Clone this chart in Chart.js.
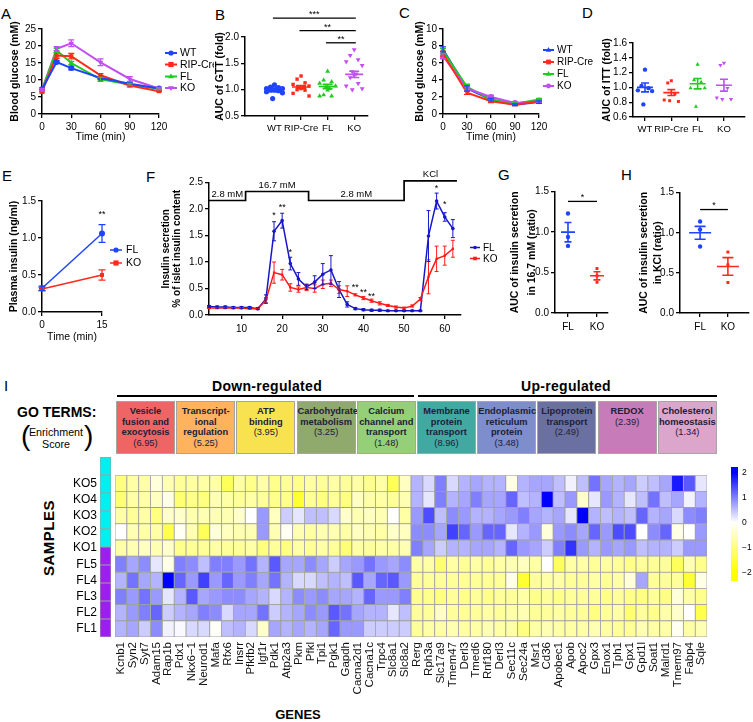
<!DOCTYPE html>
<html><head><meta charset="utf-8"><title>Figure</title>
<script src="https://cdn.jsdelivr.net/npm/chart.js@4/dist/chart.umd.min.js"></script>
<style>
html,body{margin:0;padding:0;background:#fff;}
body{width:753px;height:722px;position:relative;overflow:hidden;font-family:"Liberation Sans",Arial,Helvetica,sans-serif;color:#000;}
canvas{position:absolute;}
.t{position:absolute;white-space:nowrap;}
.pl{font-size:15px;line-height:15px;}
.go{position:absolute;top:401px;height:53px;box-sizing:border-box;border:1px solid #a5a5a5;text-align:center;font-weight:bold;font-size:9.3px;line-height:10.5px;padding-top:4px;color:#202036;}
.go .sc{font-weight:normal;}
</style></head>
<body>
<div class="t pl" style="left:1px;top:6px">A</div>
<div class="t pl" style="left:215px;top:7px">B</div>
<div class="t pl" style="left:399px;top:5px">C</div>
<div class="t pl" style="left:582px;top:5px">D</div>
<div class="t pl" style="left:2px;top:168px">E</div>
<div class="t pl" style="left:146px;top:169px">F</div>
<div class="t pl" style="left:498px;top:167px">G</div>
<div class="t pl" style="left:621px;top:167px">H</div>
<div class="t pl" style="left:4px;top:378px">I</div>

<div class="t" style="left:167px;width:200px;top:379px;text-align:center;font-weight:bold;font-size:14px;line-height:14px;letter-spacing:0.3px">Down-regulated</div>
<div class="t" style="left:466px;width:200px;top:379px;text-align:center;font-weight:bold;font-size:14px;line-height:14px;letter-spacing:0.3px">Up-regulated</div>
<div class="t" style="left:117px;width:297px;top:395px;height:2px;background:#000"></div>
<div class="t" style="left:418px;width:299px;top:395px;height:2px;background:#000"></div>

<div class="t" style="left:17px;top:405px;font-weight:bold;font-size:14px;line-height:14px">GO TERMS:</div>
<div class="t" style="left:21px;top:422px;font-size:28px;line-height:28px">(</div>
<div class="t" style="left:84px;top:422px;font-size:28px;line-height:28px">)</div>
<div class="t" style="left:16px;width:80px;top:427px;text-align:center;font-size:10.7px;line-height:11.5px">Enrichment<br>Score</div>

<div class="t" style="left:-11px;width:120px;top:529px;text-align:center;font-weight:bold;font-size:15px;line-height:18px;letter-spacing:0.5px;transform:rotate(-90deg)">SAMPLES</div>
<div class="t" style="left:248px;width:100px;top:707px;text-align:center;font-weight:bold;font-size:13px;line-height:15px">GENES</div>

<script>
const FONT = '"Liberation Sans", Arial, Helvetica, sans-serif';
Chart.defaults.font.family = FONT;
Chart.defaults.color = '#000';

// ================= DATA =================
const groups4 = ['WT', 'RIP-Cre', 'FL', 'KO'];
const groups2 = ['FL', 'KO'];

// A: IPGTT blood glucose
const gttTime = [0, 15, 30, 60, 90, 120];
const gttWT  = [7.3, 15.3, 13.5, 10.6, 8.9, 7.5];
const gttRIP = [6.5, 17.2, 17.0, 11.4, 8.4, 6.7];
const gttFL  = [7.0, 18.7, 15.0, 10.2, 8.7, 7.4];
const gttKO  = [7.2, 19.2, 20.8, 15.2, 10.3, 7.5];
const gttWTerr  = [0.3, 0.4, 0.5, 0.4, 0.3, 0.2];
const gttRIPerr = [0.3, 0.8, 0.8, 0.5, 0.4, 0.2];
const gttFLerr  = [0.3, 0.6, 0.5, 0.6, 0.3, 0.2];
const gttKOerr  = [0.3, 0.6, 1.0, 1.0, 0.7, 0.3];

// B: AUC of GTT
const aucGttWT  = [1.09, 1.05, 1.04, 1.02, 1.02, 1.0, 1.0, 0.99, 0.99, 0.98, 0.96, 0.94, 0.83];
const aucGttRIP = [1.26, 1.2, 1.13, 1.1, 1.07, 1.05, 1.04, 1.02, 1.0, 0.99, 0.93, 0.88];
const aucGttFL  = [1.35, 1.18, 1.15, 1.12, 1.07, 1.04, 1.02, 0.99, 0.9, 0.88, 0.88];
const aucGttKO  = [1.76, 1.65, 1.57, 1.53, 1.46, 1.34, 1.3, 1.27, 1.23, 1.12, 1.07, 1.02, 1.0];
const aucGttMean = [1.0, 1.05, 1.06, 1.29];
const aucGttSem  = [0.02, 0.03, 0.04, 0.06];
const gttSigFrom = [0, 1, 2];
const gttSigTo   = [3, 3, 3];
const gttSigY    = [2.36, 2.12, 1.89];
const gttSigText = ['***', '**', '**'];

// C: ITT blood glucose
const ittTime = [0, 30, 60, 90, 120];
const ittWT  = [7.6, 3.0, 1.7, 1.1, 1.4];
const ittRIP = [7.1, 2.5, 1.5, 1.1, 1.5];
const ittFL  = [7.4, 3.2, 1.7, 1.2, 1.7];
const ittKO  = [6.8, 3.0, 2.0, 1.3, 1.5];
const ittWTerr  = [0.3, 0.3, 0.15, 0.1, 0.15];
const ittRIPerr = [0.3, 0.2, 0.15, 0.1, 0.15];
const ittFLerr  = [0.3, 0.3, 0.15, 0.1, 0.15];
const ittKOerr  = [0.3, 0.3, 0.2, 0.1, 0.15];

// D: AUC of ITT
const aucIttWT  = [1.24, 1.02, 0.99, 0.96, 0.95, 0.77];
const aucIttRIP = [1.09, 1.06, 0.91, 0.83, 0.81, 0.82];
const aucIttFL  = [1.31, 1.1, 1.07, 0.99, 0.99, 0.74];
const aucIttKO  = [1.33, 1.3, 0.99, 0.86, 0.84, 0.84];
const aucIttMean = [1.0, 0.93, 1.05, 1.03];
const aucIttSem  = [0.06, 0.04, 0.07, 0.08];

// E: plasma insulin
const insTime = [0, 15];
const insFL = [0.32, 1.06];
const insKO = [0.31, 0.50];
const insFLerr = [0.03, 0.12];
const insKOerr = [0.02, 0.07];
const insStarT = [15];
const insStarY = [1.35];
const insStarText = ['**'];

// F: islet perifusion
const periTime = [2,4,6,8,10,12,14,16,18,20,22,24,26,28,30,32,34,36,38,40,42,44,46,48,50,52,54,56,58,60,62];
const periFL = [0.16,0.15,0.15,0.14,0.14,0.14,0.12,0.30,1.58,1.78,0.97,0.68,0.53,0.62,0.77,0.85,0.48,0.20,0.12,0.10,0.09,0.09,0.08,0.08,0.08,0.08,0.08,1.49,2.15,1.85,1.63];
const periKO = [0.13,0.13,0.13,0.13,0.13,0.12,0.12,0.28,0.80,0.76,0.52,0.48,0.52,0.50,0.58,0.60,0.48,0.45,0.38,0.32,0.27,0.22,0.18,0.15,0.13,0.17,0.30,0.72,1.06,1.12,1.25];
const periFLerr = [0.02,0.02,0.02,0.02,0.02,0.02,0.02,0.08,0.18,0.14,0.12,0.12,0.05,0.12,0.20,0.27,0.15,0.05,0.02,0.02,0.02,0.02,0.01,0.01,0.01,0.01,0.01,0.48,0.15,0.08,0.17];
const periKOerr = [0.01,0.01,0.01,0.01,0.01,0.01,0.01,0.05,0.20,0.10,0.07,0.05,0.06,0.07,0.08,0.06,0.07,0.10,0.02,0.03,0.03,0.03,0.02,0.02,0.02,0.02,0.03,0.32,0.24,0.18,0.16];
const stimStart = [2, 11, 26.5, 50];
const stimEnd   = [11, 26.5, 50, 63];
const stimLevel = [2.16, 2.33, 2.16, 2.53];
const stimText  = ['2.8 mM', '16.7 mM', '2.8 mM', 'KCl'];
const periStarT = [18, 20, 22, 38, 40, 42, 58, 60];
const periStarY = [1.91, 2.06, 1.21, 0.55, 0.46, 0.38, 2.42, 2.12];
const periStarText = ['*', '**', '*', '**', '**', '**', '*', '*'];

// G: AUC insulin secretion 16.7 mM
const gsisFL = [1.23, 0.94, 0.83];
const gsisKO = [0.55, 0.46, 0.38];
const gsisMean = [1.0, 0.46];
const gsisSem = [0.12, 0.05];

// H: AUC insulin secretion KCl
const kclFL = [1.14, 1.04, 0.83];
const kclKO = [0.76, 0.60, 0.38];
const kclMean = [1.0, 0.58];
const kclSem = [0.08, 0.11];

// I: heatmap
const genes = ['Kcnb1','Syn2','Syt7','Adam15','Rap1b','Pdx1','Nkx6\u22121','Neurod1','Mafa','Rfx6','Insrr','Pfkfb2','Igf1r','Pdk1','Atp2a3','Pkm','Pfkl','Tpi1','Pgk1','Gapdh','Cacna2d1','Cacna1c','Trpc4','Slc8a1','Slc8a2',
  'Rerg','Rph3a','Slc17a9','Tmem47','Derl3','Tmed6','Rnf180','Derl3','Sec11c','Sec24a','Msr1','Cd36','Apobec1','Apob','Apoc2','Gpx3','Enox1','Tph1','Gpx1','Gpd1l','Soat1','Malrd1','Tmem97','Fabp4','Sqle'];
const sampleNames = ['KO5','KO4','KO3','KO2','KO1','FL5','FL4','FL3','FL2','FL1'];
const KO5 = [-1.0,-0.7,-0.7,-0.3,-0.6,-0.8,-0.7,-0.7,-0.7,-1.3,-0.7,-0.9,-0.7,-0.9,-0.8,-0.9,-0.7,-0.8,-0.7,-0.8,-0.7,-0.9,-0.7,-1.3,-0.5,
  0.6,0.3,1.0,0.3,0.6,0.7,0.6,0.6,-0.2,0.6,0.7,0.7,0.5,0.1,0.5,1.1,0.7,0.6,0.7,0.4,0.5,0.7,1.8,1.3,0.2];
const KO4 = [-1.1,-0.7,-0.7,-0.5,-0.2,-1.1,-0.9,-1.0,-0.6,-0.7,-0.8,-0.7,-0.8,-0.9,-0.9,-1.6,-0.8,-1.0,-0.8,-1.0,-0.5,-0.7,-0.7,-0.8,-0.6,
  0.6,0.2,1.0,0.6,0.7,1.0,0.7,0.7,1.2,0.5,0.6,2.0,0.5,0.8,-0.4,0.2,0.8,0.6,0.2,0.5,1.1,0.5,0.7,0.1,0.6];
const KO3 = [-0.7,-0.8,-0.7,-1.0,-0.4,-0.4,-0.6,-0.6,-0.6,-0.6,-0.4,0.0,0.8,-0.5,0.4,0.2,0.5,0.5,0.3,-0.4,-0.6,-0.5,-0.6,0.0,-0.7,
  0.8,1.4,0.5,0.9,0.8,0.6,0.6,0.7,0.8,1.0,0.7,0.6,0.7,0.2,2.0,0.6,0.5,0.6,0.5,1.2,0.6,0.7,0.3,0.9,1.0];
const KO2 = [0.0,-0.6,-0.7,-0.7,-1.4,-0.1,-0.6,-1.3,-0.3,-0.5,-0.6,-0.6,0.8,-0.6,-0.1,-0.6,-0.7,-0.6,-0.6,-0.7,-0.5,-0.6,-0.7,-0.4,-0.5,
  0.9,0.9,0.7,1.5,1.2,0.8,1.2,1.2,0.2,0.6,0.8,-0.3,0.8,0.9,0.7,1.2,0.8,1.4,1.4,0.0,0.9,1.2,-0.2,0.0,0.8];
const KO1 = [-0.7,-0.6,-0.5,-0.6,-0.4,-0.9,-0.8,-0.8,-0.7,-0.8,-0.8,-0.7,-1.0,-0.8,-1.0,-0.7,-0.8,-0.7,-0.8,-1.1,-0.7,-0.8,-0.7,-0.7,-0.6,
  1.0,0.7,0.4,0.6,0.6,0.7,0.7,0.6,1.2,0.8,0.7,0.4,1.0,1.6,0.8,0.6,0.8,0.7,0.8,0.5,0.6,0.6,0.4,0.8,0.8];
const FL5 = [1.0,0.7,0.9,0.2,-0.2,1.0,0.9,0.5,1.0,1.0,0.8,1.1,0.6,1.3,0.7,0.7,0.9,0.7,0.4,0.7,0.8,1.1,0.8,0.7,0.9,
  -0.7,-0.7,-1.1,-0.7,-0.8,-0.7,-0.8,-0.7,-0.6,-0.5,-0.7,0.0,-1.3,-0.7,-0.7,-0.8,-0.7,-0.8,-0.9,-0.8,-0.8,-0.8,-1.3,-0.6,-0.9];
const FL4 = [0.6,1.1,0.7,0.6,2.2,1.2,0.8,1.5,0.8,1.2,0.8,1.0,0.7,1.1,0.6,0.3,0.3,0.5,0.6,0.5,1.3,0.7,1.2,1.3,0.8,
  -0.8,-0.8,-0.8,-0.8,-0.8,-0.8,-0.8,-0.8,-0.2,-1.6,-0.8,-0.7,-0.7,-0.8,-0.8,-0.7,-0.8,-0.7,-0.3,0.7,-0.8,-0.8,-0.8,-1.6,-0.2];
const FL3 = [1.0,0.8,1.1,0.8,0.2,0.6,1.3,0.7,0.8,0.9,0.9,0.7,0.6,0.3,0.6,0.9,0.8,0.9,0.7,0.7,0.6,1.2,0.8,0.8,1.0,
  -0.9,-0.9,-1.0,-0.8,-0.9,-0.8,-0.9,-0.8,-0.8,-0.7,-0.9,-0.8,-0.9,-0.8,-0.8,-0.8,-0.9,-0.8,-0.9,-1.0,-0.8,-1.0,-0.3,-0.7,-0.9];
const FL2 = [0.6,0.8,1.0,1.2,0.4,0.6,0.7,1.0,0.9,0.3,0.7,0.7,1.1,0.4,0.6,0.7,0.9,0.8,1.3,1.1,0.7,0.6,0.6,0.2,0.5,
  -0.8,-0.8,-0.5,-0.8,-0.8,-0.8,-0.7,-0.8,-0.7,-0.6,-0.8,-0.8,-0.7,-0.8,-0.8,-1.0,-0.8,-0.7,-1.1,-0.8,-0.9,-0.7,-0.4,0.0,-1.4];
const FL1 = [0.6,0.7,0.4,0.9,0.1,0.05,0.3,0.3,-0.05,0.5,0.6,0.3,-0.4,0.7,0.6,0.7,0.6,0.7,1.2,0.8,0.8,0.4,0.4,0.4,0.4,
  -0.8,-0.7,-0.7,-0.6,-0.7,-0.7,-0.6,-0.7,-0.7,-1.0,-0.7,-0.6,-0.7,-0.7,-0.7,-0.6,-0.7,-0.8,-0.8,-0.6,-0.7,-0.7,-0.1,-0.7,-0.6];
const heatRows = [KO5, KO4, KO3, KO2, KO1, FL5, FL4, FL3, FL2, FL1];
const colorbarTicks = [2, 1, 0, -1, -2];
const cbMin = -2.35, cbMax = 2.22;

const goTerms = [['Vesicle','fusion and','exocytosis'],['Transcript-','ional','regulation'],['ATP','binding'],['Carbohydrate','metabolism'],['Calcium','channel and','transport'],
  ['Membrane','protein','transport'],['Endoplasmic','reticulum','protein'],['Lipoprotein','transport'],['REDOX'],['Cholesterol','homeostasis']];
const goScores = ['(6.95)','(5.25)','(3.95)','(3.25)','(1.48)','(8.96)','(3.48)','(2.49)','(2.39)','(1.34)'];
const goColors = ['#ef6565','#ffb35e','#f9e250','#90a96c','#95cf78','#41a9a2','#7e8dcb','#6b70a3','#c87bb9','#dba5cc'];

// ================= HELPERS =================
const cBlue = '#1f45fc', cRed = '#ff2a1a', cGreen = '#1ecb1e', cPurple = '#c24ef0';
const cNavy = '#1717c8', cRed2 = '#ff1a1a';

function geom(a, c) {
  return {left: c.l, top: c.t, w: c.r - c.l, h: c.b - c.t, yW: a.l - c.l, xH: c.b - a.b, padT: a.t - c.t, padR: c.r - a.r};
}
function makeChart(g, cfg) {
  const cv = document.createElement('canvas');
  cv.width = g.w; cv.height = g.h;
  cv.style.left = g.left + 'px'; cv.style.top = g.top + 'px';
  cv.style.width = g.w + 'px'; cv.style.height = g.h + 'px';
  document.body.appendChild(cv);
  cfg.options = cfg.options || {};
  Object.assign(cfg.options, {responsive: false, maintainAspectRatio: false, animation: false, devicePixelRatio: 1, events: []});
  cfg.options.layout = {padding: {left: g.padL || 0, top: g.padT, right: g.padR, bottom: g.padB || 0}};
  cfg.options.plugins = Object.assign({legend: {display: false}, tooltip: {enabled: false}, title: {display: false}}, cfg.options.plugins || {});
  return new Chart(cv.getContext('2d'), cfg);
}
function linAxis(o) {
  return {
    type: 'linear', position: o.pos, min: o.min, max: o.max,
    afterBuildTicks: s => { s.ticks = o.ticks.map(v => ({value: v})); },
    afterFit: s => { if (o.pos === 'left' || o.pos === 'right') s.width = o.size; else s.height = o.size; },
    ticks: {font: {size: o.fs || 10}, color: '#000', padding: o.pad !== undefined ? o.pad : 2,
      callback: o.fmt || (v => String(v)), autoSkip: false, maxRotation: 0, minRotation: 0},
    grid: {display: true, drawOnChartArea: false, drawTicks: true, tickLength: o.tl || 4, color: '#000', lineWidth: 1.3},
    border: {display: true, color: '#000', width: 1.5},
    title: {display: !!o.title, text: o.title, font: {size: o.ts || 10.5, weight: o.tw || 'bold', lineHeight: o.tlh || 1.2}, color: '#000', padding: 0}
  };
}
const f1 = v => v.toFixed(1);
function drawMarker(ctx, style, x, y, r, color, rot) {
  ctx.save(); ctx.fillStyle = color; ctx.beginPath();
  if (style === 'circle') ctx.arc(x, y, r, 0, Math.PI * 2);
  else if (style === 'rect') ctx.rect(x - r, y - r, 2 * r, 2 * r);
  else if (style === 'triangle') {
    const s = rot ? -1 : 1;
    ctx.moveTo(x, y - s * r * 1.2); ctx.lineTo(x + r * 1.1, y + s * r * 0.7); ctx.lineTo(x - r * 1.1, y + s * r * 0.7);
  }
  ctx.closePath(); ctx.fill(); ctx.restore();
}
function lineDs(xs, ys, errs, color, style, rot, r, bw) {
  return {data: xs.map((x, i) => ({x: x, y: ys[i]})), errors: errs, borderColor: color, backgroundColor: color,
    pointStyle: style, pointRotation: rot || 0, pointRadius: r, pointBorderWidth: 0, borderWidth: bw, tension: 0, clip: false};
}
function jitter(j) { return [0, -0.15, 0.15, -0.3, 0.3, -0.07, 0.07][j % 7]; }
function dotDs(vals, gi, color, style, rot, r, spread) {
  return {data: vals.map((v, j) => ({x: gi + jitter(j) * spread, y: v})), backgroundColor: color, borderColor: color,
    pointStyle: style, pointRotation: rot || 0, pointRadius: r, pointBorderWidth: 0, clip: false};
}
const errPlugin = {
  id: 'errbars',
  afterDatasetsDraw(chart) {
    const ctx = chart.ctx, ys = chart.scales.y;
    chart.data.datasets.forEach((ds, i) => {
      if (!ds.errors) return;
      const meta = chart.getDatasetMeta(i);
      ctx.save(); ctx.strokeStyle = ds.borderColor; ctx.lineWidth = ds.errW || 1.3;
      meta.data.forEach((pt, j) => {
        const e = ds.errors[j]; if (!e) return;
        const v = ds.data[j].y, cw = ds.capW || 3;
        const y1 = ys.getPixelForValue(v + e), y2 = ys.getPixelForValue(v - e);
        ctx.beginPath();
        ctx.moveTo(pt.x, y1); ctx.lineTo(pt.x, y2);
        ctx.moveTo(pt.x - cw, y1); ctx.lineTo(pt.x + cw, y1);
        ctx.moveTo(pt.x - cw, y2); ctx.lineTo(pt.x + cw, y2);
        ctx.stroke();
      });
      ctx.restore();
    });
  }
};
function legendPlugin(g, items, o) {
  return {id: 'lg', afterDraw(chart) {
    const ctx = chart.ctx;
    items.forEach((it, i) => {
      const x = o.x - g.left, y = o.ys[i] - g.top;
      ctx.save(); ctx.strokeStyle = it.color; ctx.lineWidth = o.lw;
      ctx.beginPath(); ctx.moveTo(x, y); ctx.lineTo(x + o.len, y); ctx.stroke();
      drawMarker(ctx, it.style, x + o.len / 2, y, o.r, it.color, it.rot);
      ctx.fillStyle = '#000'; ctx.font = o.fs + 'px ' + FONT; ctx.textBaseline = 'middle'; ctx.textAlign = 'left';
      ctx.fillText(it.text, x + o.len + o.gap, y + 0.5);
      ctx.restore();
    });
  }};
}
function meanSemPlugin(means, sems, colors, mh, ch, lw) {
  return {id: 'ms', afterDatasetsDraw(chart) {
    const ctx = chart.ctx, xs = chart.scales.x, ys = chart.scales.y;
    means.forEach((m, i) => {
      const cx = xs.getPixelForValue(i), ym = ys.getPixelForValue(m);
      const yt = ys.getPixelForValue(m + sems[i]), yb = ys.getPixelForValue(m - sems[i]);
      ctx.save(); ctx.strokeStyle = colors[i]; ctx.lineWidth = lw; ctx.beginPath();
      ctx.moveTo(cx - mh, ym); ctx.lineTo(cx + mh, ym);
      ctx.moveTo(cx, yt); ctx.lineTo(cx, yb);
      ctx.moveTo(cx - ch, yt); ctx.lineTo(cx + ch, yt);
      ctx.moveTo(cx - ch, yb); ctx.lineTo(cx + ch, yb);
      ctx.stroke(); ctx.restore();
    });
  }};
}
function sigPlugin(from, to, yv, txt, fs, shift) {
  return {id: 'sig', afterDraw(chart) {
    const ctx = chart.ctx, xs = chart.scales.x, ys = chart.scales.y;
    ctx.save(); ctx.strokeStyle = '#000'; ctx.fillStyle = '#000'; ctx.lineWidth = 1.3;
    ctx.font = fs + 'px ' + FONT; ctx.textAlign = 'center'; ctx.textBaseline = 'alphabetic';
    from.forEach((f, i) => {
      const x1 = xs.getPixelForValue(f - shift), x2 = xs.getPixelForValue(to[i] + shift), y = ys.getPixelForValue(yv[i]);
      ctx.beginPath(); ctx.moveTo(x1, y); ctx.lineTo(x2, y); ctx.stroke();
      ctx.fillText(txt[i], (x1 + x2) / 2, y + fs * 0.1 - 2);
    });
    ctx.restore();
  }};
}
function starPlugin(ts, yv, txt, fs) {
  return {id: 'stars', afterDraw(chart) {
    const ctx = chart.ctx, xs = chart.scales.x, ys = chart.scales.y;
    ctx.save(); ctx.fillStyle = '#000'; ctx.font = fs + 'px ' + FONT; ctx.textAlign = 'center'; ctx.textBaseline = 'alphabetic';
    ts.forEach((t, i) => { ctx.fillText(txt[i], xs.getPixelForValue(t), ys.getPixelForValue(yv[i]) + fs * 0.5); });
    ctx.restore();
  }};
}

// ================= A =================
(function () {
  const g = geom({l: 42, t: 29, r: 159, b: 114}, {l: 9, t: 20, r: 214, b: 143});
  makeChart(g, {
    type: 'line',
    data: {datasets: [
      lineDs(gttTime, gttWT, gttWTerr, cBlue, 'circle', 0, 3, 2),
      lineDs(gttTime, gttRIP, gttRIPerr, cRed, 'rect', 0, 2.8, 2),
      lineDs(gttTime, gttFL, gttFLerr, cGreen, 'triangle', 0, 3.2, 2),
      lineDs(gttTime, gttKO, gttKOerr, cPurple, 'triangle', 180, 3.2, 2)]},
    options: {scales: {
      x: linAxis({pos: 'bottom', min: 0, max: 120, ticks: [0, 30, 60, 90, 120], size: g.xH, title: 'Time (min)', tw: 'normal', pad: 3}),
      y: linAxis({pos: 'left', min: 0, max: 25, ticks: [0, 5, 10, 15, 20, 25], size: g.yW, title: 'Blood glucose (mM)'})}},
    plugins: [errPlugin, legendPlugin(g, [
      {text: 'WT', color: cBlue, style: 'circle'}, {text: 'RIP-Cre', color: cRed, style: 'rect'},
      {text: 'FL', color: cGreen, style: 'triangle'}, {text: 'KO', color: cPurple, style: 'triangle', rot: 1}],
      {x: 165, ys: [53, 64.5, 76.5, 88], len: 12, gap: 3, fs: 10.5, lw: 2, r: 2.6})]
  });
})();

// ================= B =================
(function () {
  const g = geom({l: 245, t: 37, r: 370, b: 116}, {l: 214, t: 2, r: 372, b: 136});
  makeChart(g, {
    type: 'scatter',
    data: {datasets: [
      dotDs(aucGttWT, 0, cBlue, 'circle', 0, 2.6, 1),
      dotDs(aucGttRIP, 1, cRed, 'rect', 0, 2.4, 1),
      dotDs(aucGttFL, 2, cGreen, 'triangle', 0, 2.8, 1),
      dotDs(aucGttKO, 3, cPurple, 'triangle', 180, 2.8, 1)]},
    options: {scales: {
      x: linAxis({pos: 'bottom', min: -1.11, max: 3.52, ticks: [0, 1, 2, 3], size: g.xH, fmt: v => groups4[v], pad: 3, fs: 9.5}),
      y: linAxis({pos: 'left', min: 0.5, max: 2.0, ticks: [0.5, 1.0, 1.5, 2.0], size: g.yW, fmt: f1, title: 'AUC of GTT (fold)'})}},
    plugins: [meanSemPlugin(aucGttMean, aucGttSem, [cBlue, cRed, cGreen, cPurple], 9, 5, 1.6),
      sigPlugin(gttSigFrom, gttSigTo, gttSigY, gttSigText, 9, 0.06)]
  });
})();

// ================= C =================
(function () {
  const g = geom({l: 443, t: 29, r: 539, b: 114}, {l: 414, t: 20, r: 605, b: 143});
  makeChart(g, {
    type: 'line',
    data: {datasets: [
      lineDs(ittTime, ittRIP, ittRIPerr, cRed, 'rect', 0, 2.2, 2),
      lineDs(ittTime, ittKO, ittKOerr, cPurple, 'circle', 0, 3, 2),
      lineDs(ittTime, ittFL, ittFLerr, cGreen, 'triangle', 0, 2.6, 2),
      lineDs(ittTime, ittWT, ittWTerr, cBlue, 'triangle', 0, 2.6, 2)]},
    options: {scales: {
      x: linAxis({pos: 'bottom', min: 0, max: 120, ticks: [0, 30, 60, 90, 120], size: g.xH, title: 'Time (min)', tw: 'normal', pad: 3}),
      y: linAxis({pos: 'left', min: 0, max: 10, ticks: [0, 2, 4, 6, 8, 10], size: g.yW, title: 'Blood glucose (mM)'})}},
    plugins: [errPlugin, legendPlugin(g, [
      {text: 'WT', color: cBlue, style: 'triangle'}, {text: 'RIP-Cre', color: cRed, style: 'rect'},
      {text: 'FL', color: cGreen, style: 'triangle'}, {text: 'KO', color: cPurple, style: 'circle'}],
      {x: 543, ys: [50, 62, 74, 86], len: 11, gap: 3, fs: 10, lw: 2, r: 2.4})]
  });
})();

// ================= D =================
(function () {
  const g = geom({l: 633, t: 43, r: 745, b: 117}, {l: 601, t: 30, r: 753, b: 137});
  makeChart(g, {
    type: 'scatter',
    data: {datasets: [
      dotDs(aucIttWT, 0, cBlue, 'circle', 0, 2.2, 0.9),
      dotDs(aucIttRIP, 1, cRed, 'rect', 0, 2.1, 0.9),
      dotDs(aucIttFL, 2, cGreen, 'triangle', 0, 2.4, 0.9),
      dotDs(aucIttKO, 3, cPurple, 'triangle', 180, 2.4, 0.9)]},
    options: {scales: {
      x: linAxis({pos: 'bottom', min: -0.456, max: 3.8, ticks: [0, 1, 2, 3], size: g.xH, fmt: v => groups4[v], pad: 3, fs: 9.5}),
      y: linAxis({pos: 'left', min: 0.6, max: 1.6, ticks: [0.6, 0.8, 1.0, 1.2, 1.4, 1.6], size: g.yW, fmt: f1, title: 'AUC of ITT (fold)'})}},
    plugins: [meanSemPlugin(aucIttMean, aucIttSem, [cBlue, cRed, cGreen, cPurple], 8, 4, 1.6)]
  });
})();

// ================= E =================
(function () {
  const g = geom({l: 42, t: 201, r: 102, b: 312}, {l: 8, t: 185, r: 150, b: 343});
  makeChart(g, {
    type: 'line',
    data: {datasets: [
      Object.assign(lineDs(insTime, insKO, insKOerr, cRed, 'rect', 0, 2.8, 1.5), {capW: 3.5}),
      Object.assign(lineDs(insTime, insFL, insFLerr, cBlue, 'circle', 0, 3, 1.5), {capW: 3.5})]},
    options: {scales: {
      x: linAxis({pos: 'bottom', min: 0, max: 15, ticks: [0, 15], size: g.xH, title: 'Time (min)', tw: 'normal', pad: 3}),
      y: linAxis({pos: 'left', min: 0, max: 1.5, ticks: [0, 0.5, 1.0, 1.5], size: g.yW, fmt: f1, title: 'Plasma insulin (ng/ml)'})}},
    plugins: [errPlugin, starPlugin(insStarT, insStarY, insStarText, 9),
      legendPlugin(g, [{text: 'FL', color: cBlue, style: 'circle'}, {text: 'KO', color: cRed, style: 'rect'}],
        {x: 110, ys: [250, 263], len: 12, gap: 4, fs: 10.5, lw: 1.5, r: 2.6})]
  });
})();

// ================= F =================
(function () {
  const g = geom({l: 209, t: 182.5, r: 461, b: 315}, {l: 160, t: 160, r: 502, b: 336});
  const stimPlugin = {id: 'stim', afterDraw(chart) {
    const ctx = chart.ctx, xs = chart.scales.x, ys = chart.scales.y;
    ctx.save(); ctx.strokeStyle = '#000'; ctx.lineWidth = 1.7; ctx.beginPath();
    stimStart.forEach((s, i) => {
      const x1 = xs.getPixelForValue(s), x2 = xs.getPixelForValue(stimEnd[i]), y = ys.getPixelForValue(stimLevel[i]);
      if (i === 0) ctx.moveTo(x1, y); else ctx.lineTo(x1, y);
      ctx.lineTo(x2, y);
    });
    ctx.stroke();
    ctx.fillStyle = '#000'; ctx.font = '9.5px ' + FONT; ctx.textAlign = 'center'; ctx.textBaseline = 'alphabetic';
    stimText.forEach((t, i) => {
      const x = xs.getPixelForValue((stimStart[i] + stimEnd[i]) / 2), y = ys.getPixelForValue(stimLevel[i]);
      ctx.fillText(t, x, y - 4);
    });
    ctx.restore();
  }};
  makeChart(g, {
    type: 'line',
    data: {datasets: [
      Object.assign(lineDs(periTime, periKO, periKOerr, cRed2, 'rect', 0, 1.6, 1.5), {capW: 2, errW: 1}),
      Object.assign(lineDs(periTime, periFL, periFLerr, cNavy, 'circle', 0, 1.8, 1.5), {capW: 2, errW: 1})]},
    options: {scales: {
      x: linAxis({pos: 'bottom', min: 2, max: 64, ticks: [10, 20, 30, 40, 50, 60], size: g.xH, pad: 4}),
      y: linAxis({pos: 'left', min: 0, max: 2.5, ticks: [0, 0.5, 1.0, 1.5, 2.0, 2.5], size: g.yW, fmt: f1,
        title: ['Insulin secretion', '% of islet insulin content'], ts: 10, tlh: 1.15})}},
    plugins: [errPlugin, stimPlugin, starPlugin(periStarT, periStarY, periStarText, 9),
      legendPlugin(g, [{text: 'FL', color: cNavy, style: 'circle'}, {text: 'KO', color: cRed2, style: 'rect'}],
        {x: 470, ys: [247.5, 258.5], len: 10, gap: 3, fs: 10, lw: 1.5, r: 1.8})]
  });
})();

// ================= G =================
(function () {
  const g = geom({l: 555, t: 191.7, r: 608, b: 313}, {l: 507, t: 170, r: 612, b: 336});
  makeChart(g, {
    type: 'scatter',
    data: {datasets: [
      dotDs(gsisFL, 0, cBlue, 'circle', 0, 2.2, 0),
      dotDs(gsisKO, 1, cRed, 'rect', 0, 2.1, 0)]},
    options: {scales: {
      x: linAxis({pos: 'bottom', min: -0.448, max: 1.38, ticks: [0, 1], size: g.xH, fmt: v => groups2[v], pad: 4}),
      y: linAxis({pos: 'left', min: 0, max: 1.5, ticks: [0, 0.5, 1.0, 1.5], size: g.yW, fmt: f1,
        title: ['AUC of insulin secretion', 'in 16.7 mM (ratio)'], tlh: 1.6})}},
    plugins: [meanSemPlugin(gsisMean, gsisSem, [cBlue, cRed], 7, 3.5, 1.6),
      sigPlugin([0], [1], [1.38], ['*'], 9, 0)]
  });
})();

// ================= H =================
(function () {
  const g = geom({l: 680, t: 192.7, r: 752, b: 313}, {l: 637, t: 170, r: 753, b: 336});
  makeChart(g, {
    type: 'scatter',
    data: {datasets: [
      dotDs(kclFL, 0, cBlue, 'circle', 0, 2.2, 0),
      dotDs(kclKO, 1, cRed, 'rect', 0, 2.1, 0)]},
    options: {scales: {
      x: linAxis({pos: 'bottom', min: -0.724, max: 1.76, ticks: [0, 1], size: g.xH, fmt: v => groups2[v], pad: 4}),
      y: linAxis({pos: 'left', min: 0, max: 1.5, ticks: [0, 0.5, 1.0, 1.5], size: g.yW, fmt: f1,
        title: ['AUC of insulin secretion', 'in KCl (ratio)'], tlh: 1.35})}},
    plugins: [meanSemPlugin(kclMean, kclSem, [cBlue, cRed], 11, 5.5, 1.6),
      sigPlugin([0], [1], [1.29], ['*'], 9, 0)]
  });
})();

// ================= I: GO boxes =================
goTerms.forEach((lines, k) => {
  const d = document.createElement('div');
  d.className = 'go';
  d.style.left = (116 + 60.2 * k).toFixed(1) + 'px';
  d.style.width = '59px';
  d.style.background = goColors[k];
  d.innerHTML = lines.join('<br>') + '<br><span class="sc">' + goScores[k] + '</span>';
  document.body.appendChild(d);
});

// ================= I: heatmap =================
function heatColor(v) {
  const t = Math.max(-1, Math.min(1, v / 2));
  if (t >= 0) { const c = Math.round(255 * (1 - t)); return 'rgb(' + c + ',' + c + ',255)'; }
  const c = Math.round(255 * (1 + t)); return 'rgb(255,255,' + c + ')';
}
(function () {
  const g = geom({l: 115, t: 457, r: 717, b: 637}, {l: 0, t: 450, r: 720, b: 705});
  const rowsBottomUp = heatRows.slice().reverse();
  makeChart(g, {
    type: 'bar',
    data: {labels: genes, datasets: rowsBottomUp.map(row => ({
      data: row.map(() => 1), backgroundColor: row.map(heatColor), borderColor: '#a0a0a0', borderWidth: 0.8,
      borderSkipped: false, barPercentage: 1, categoryPercentage: 1}))},
    options: {scales: {
      x: {type: 'category', stacked: true, grid: {display: false, drawTicks: false, tickLength: 0}, border: {display: false},
        ticks: {autoSkip: false, maxRotation: 90, minRotation: 90, font: {size: 11.5}, color: '#111', padding: 5},
        afterFit: s => { s.height = g.xH; }},
      y: {type: 'linear', stacked: true, min: 0, max: 10, grid: {display: false, drawTicks: false, tickLength: 0}, border: {display: false},
        afterBuildTicks: s => { s.ticks = sampleNames.map((n, i) => ({value: 9.5 - i})); },
        ticks: {callback: v => sampleNames[Math.round(9.5 - v)], font: {size: 12}, color: '#000', padding: 18},
        afterFit: s => { s.width = g.yW; }}}}
  });
})();
// side group strip
(function () {
  const g = {left: 98, top: 455, w: 15, h: 184, padL: 2, padT: 2, padR: 2, padB: 2};
  const rowsBottomUp = sampleNames.slice().reverse();
  makeChart(g, {
    type: 'bar',
    data: {labels: ['group'], datasets: rowsBottomUp.map(n => ({
      data: [1], backgroundColor: n.indexOf('KO') === 0 ? '#00f0f0' : '#9b1ff0', borderColor: '#a0a0a0', borderWidth: 0.8,
      borderSkipped: false, barPercentage: 1, categoryPercentage: 1}))},
    options: {scales: {x: {display: false, stacked: true}, y: {display: false, stacked: true, min: 0, max: 10}}}
  });
})();
// colorbar
(function () {
  const g = {left: 729, top: 458, w: 24, h: 132, padL: 2, padT: 7, padR: 0, padB: 8};
  makeChart(g, {
    type: 'bar',
    data: {labels: ['scale'], datasets: [{data: [[cbMin, cbMax]], barPercentage: 1, categoryPercentage: 1, borderWidth: 0,
      backgroundColor: c => {
        const ch = c.chart; if (!ch.chartArea) return '#fff';
        const ys = ch.scales.y, top = ys.getPixelForValue(cbMax), bot = ys.getPixelForValue(cbMin);
        const gr = ch.ctx.createLinearGradient(0, top, 0, bot);
        [cbMax, 2, 1.5, 1, 0.5, 0, -0.5, -1, -1.5, -2, cbMin].forEach(v => {
          gr.addColorStop(Math.min(1, Math.max(0, (ys.getPixelForValue(v) - top) / (bot - top))), heatColor(v));
        });
        return gr;
      }}]},
    options: {scales: {
      x: {display: false},
      y: {type: 'linear', position: 'right', min: cbMin, max: cbMax, grid: {display: false, drawTicks: false, tickLength: 0}, border: {display: false},
        afterBuildTicks: s => { s.ticks = colorbarTicks.map(v => ({value: v})); },
        ticks: {callback: v => v < 0 ? '\u2212' + (-v) : String(v), font: {size: 8.5}, color: '#000', padding: 4},
        afterFit: s => { s.width = 15; }}}}
  });
})();
</script>
</body></html>
